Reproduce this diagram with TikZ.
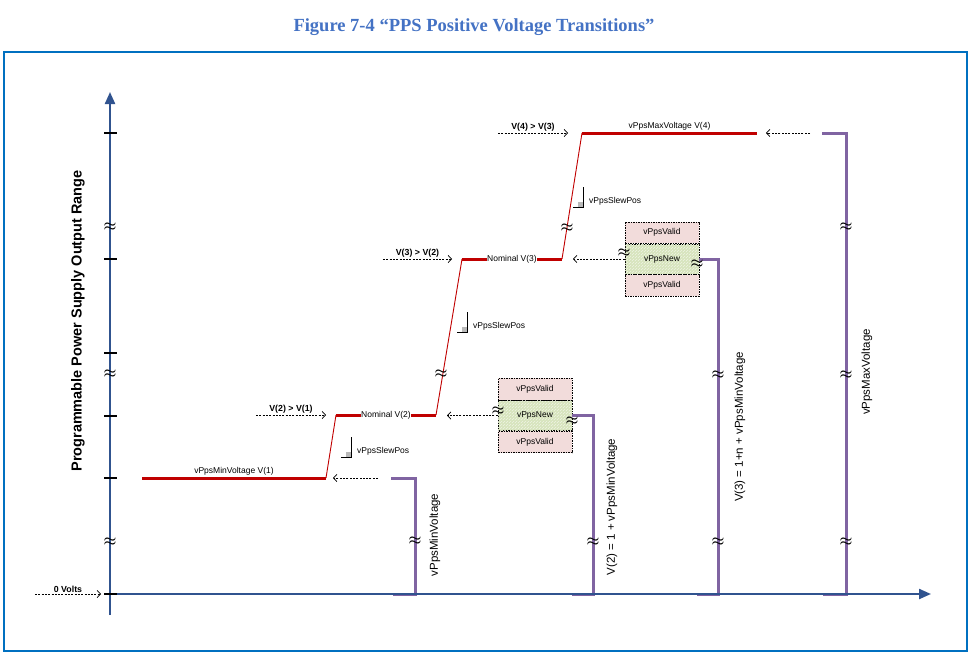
\documentclass[tikz,border=0pt]{standalone}
\usepackage{fontspec}
\setmainfont{Liberation Sans}
\newfontfamily\captionserif{Liberation Serif}
\usetikzlibrary{arrows.meta, positioning, patterns}

\definecolor{frameblue}{HTML}{0070C0}
\definecolor{titleblue}{HTML}{4472C4}
\definecolor{axisblue}{HTML}{30538F}
\definecolor{levelred}{HTML}{C00000}
\definecolor{spanpurple}{HTML}{8064A2}
\definecolor{validpink}{HTML}{F2DCDB}
\definecolor{newgreen}{HTML}{D7E4BD}

\begin{document}
\begin{tikzpicture}[x=1pt, y=-1pt,
    axis/.style={draw=axisblue, line width=2.2pt},
    level/.style={draw=levelred, line width=3pt},
    ramp/.style={draw=levelred, line width=0.9pt},
    span/.style={draw=spanpurple, line width=3pt},
    hint/.style={-{Straight Barb[length=3.5pt, width=7.5pt, line width=0.7pt]}, dash pattern=on 2pt off 1.3pt, line width=0.6pt},
    lbl/.style={font=\fontsize{8.5}{10}\selectfont, inner sep=1pt},
    cond/.style={font=\bfseries\fontsize{8.8}{10}\selectfont, inner sep=1.5pt},
    vlbl/.style={font=\fontsize{11.5}{13}\selectfont, rotate=90, inner sep=0pt},
    brk/.style={font=\boldmath\fontsize{13.5}{13.5}\selectfont, inner sep=0pt},
    cell/.style={draw, dash pattern=on 1.5pt off 1pt, line width=0.6pt, minimum width=74pt, inner sep=0pt, font=\fontsize{8.5}{10}\selectfont},
    validcell/.style={cell, fill=validpink, minimum height=21.5pt},
    newcell/.style={cell, fill=newgreen, minimum height=30pt, postaction={pattern=north east lines, pattern color=white!60!newgreen}}
]
\useasboundingbox (0,0) rectangle (972,656);

\node[font=\captionserif\bfseries\fontsize{18.5}{20}\selectfont, text=titleblue] (title) at (474,27) {Figure 7-4 “PPS Positive Voltage Transitions”};
\draw[draw=frameblue, line width=2.5pt] (4,52) rectangle (967,651);

% validation stacks
\node[newcell] (new1) at (535,415.5) {vPpsNew};
\node[validcell, above=0pt of new1] (valid1a) {vPpsValid};
\node[validcell, below=0pt of new1] (valid1b) {vPpsValid};
\node[newcell] (new2) at (662,259) {vPpsNew};
\node[validcell, above=0pt of new2] (valid2a) {vPpsValid};
\node[validcell, below=0pt of new2] (valid2b) {vPpsValid};

% purple spans
\coordinate (p1top) at (391,478);
\coordinate (p1bot) at (393,594);
\coordinate (p2bot) at (572,594);
\coordinate (p3bot) at (697,594);
\coordinate (p4top) at (822,133);
\coordinate (p4bot) at (823,594);
\draw[span] (p1top) -- ++(24,0) |- (p1bot);
\draw[span] (new1.east) -- ++(21,0) |- (p2bot);
\draw[span] (new2.east) -- ++(19,0) |- (p3bot);
\draw[span] (p4top) -- ++(24,0) |- (p4bot);

% axes
\coordinate (ybot) at (110,615);
\coordinate (ytop) at (110,92);
\coordinate (orig) at (110,594);
\coordinate (xend) at (931,594);
\draw[axis, -{Triangle[length=12pt, width=10pt]}] (ybot) -- (ytop);
\draw[axis, -{Triangle[length=12pt, width=10pt]}] (orig) -- (xend);
\foreach \ty in {133,259,353,416,478,594}
  \draw[line width=1.3pt] (104,\ty) -- (117,\ty);
\node[font=\bfseries\fontsize{14.5}{16}\selectfont, rotate=90] (ylbl) at (78,321) {Programmable Power Supply Output Range};

% voltage levels
\coordinate (v1a) at (142,478);
\coordinate (v1b) at (326,478);
\coordinate (v2a) at (336,415);
\coordinate (v2b) at (436,415);
\coordinate (v3a) at (462,259);
\coordinate (v3b) at (562,259);
\coordinate (v4a) at (582,133);
\coordinate (v4b) at (757,133);
\draw[level] (v1a) -- node[lbl, above] (v1lbl) {vPpsMinVoltage V(1)} (v1b);
\draw[level] (v2a) -- node[lbl, fill=white, inner sep=0.5pt] (v2lbl) {Nominal V(2)} (v2b);
\draw[level] (v3a) -- node[lbl, fill=white, inner sep=0.5pt] (v3lbl) {Nominal V(3)} (v3b);
\draw[level] (v4a) -- node[lbl, above] (v4lbl) {vPpsMaxVoltage V(4)} (v4b);
\draw[ramp] (v1b) -- (v2a);
\draw[ramp] (v2b) -- (v3a);
\draw[ramp] (v3b) -- (v4a);

% slew rate markers
\foreach \sx/\sy [count=\i] in {351/457, 467/332, 583/207} {
  \fill[gray!55] (\sx-5,\sy-5) rectangle (\sx,\sy);
  \draw[line width=0.8pt] (\sx,\sy-20) |- (\sx-10,\sy);
  \node[lbl, anchor=west] (slew\i) at (\sx+5,\sy-6) {vPpsSlewPos};
}

% request arrows
\coordinate (zfrom) at (35,594);
\coordinate (zto) at (101,594);
\coordinate (u2from) at (256,415);
\coordinate (u2to) at (326,415);
\coordinate (u3from) at (383,259);
\coordinate (u3to) at (452,259);
\coordinate (u4from) at (498,133);
\coordinate (u4to) at (568,133);
\draw[hint] (zfrom) -- node[cond, above] (zlbl) {0 Volts} (zto);
\draw[hint] (u2from) -- node[cond, above] (u2lbl) {V(2) > V(1)} (u2to);
\draw[hint] (u3from) -- node[cond, above] (u3lbl) {V(3) > V(2)} (u3to);
\draw[hint] (u4from) -- node[cond, above] (u4lbl) {V(4) > V(3)} (u4to);

\coordinate (b1from) at (378,478);
\coordinate (b1to) at (333,478);
\coordinate (b2to) at (447,415.5);
\coordinate (b3to) at (573,259);
\coordinate (b4from) at (810,133);
\coordinate (b4to) at (766,133);
\draw[hint] (b1from) -- (b1to);
\draw[hint] (new1.west) -- (b2to);
\draw[hint] (new2.west) -- (b3to);
\draw[hint] (b4from) -- (b4to);

% span labels
\node[vlbl] (p1lbl) at (435,535) {vPpsMinVoltage};
\node[vlbl] (p2lbl) at (612,507) {V(2) = 1 + vPpsMinVoltage};
\node[vlbl] (p3lbl) at (740,427) {V(3) = 1+n + vPpsMinVoltage};
\node[vlbl] (p4lbl) at (867,372) {vPpsMaxVoltage};

% axis breaks
\foreach \bx/\by [count=\i] in {110/227, 110/374, 110/542, 441/374, 567/228,
    415/541, 593/542, 718/375, 718/542, 846/227, 846/375, 846/542,
    498/411, 572/421, 624/253, 697/264}
  \node[brk] (brk\i) at (\bx,\by) {$\approx$};
\end{tikzpicture}
\end{document}
